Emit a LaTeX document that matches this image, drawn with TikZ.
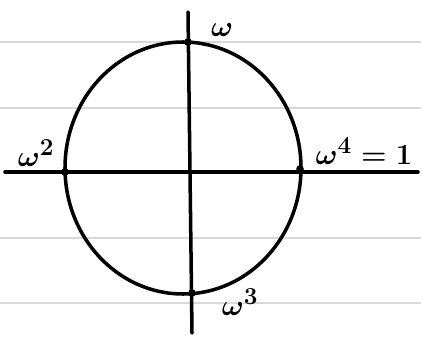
\documentclass[tikz,border=0pt]{standalone}
\usetikzlibrary{calc}
\begin{document}
\begin{tikzpicture}[
	x=0.3mm, y=-0.3mm,
	ink/.style = {line width=3pt, line cap=round, black},
	rule/.style = {black!15, line width=1.2pt},
	pt/.style = {circle, fill=black, inner sep=0pt, minimum size=6.5pt},
	lbl/.style = {font=\fontsize{28}{30}\selectfont\boldmath, black}
	]
	\useasboundingbox (0,0) rectangle (421,338);
	
	% === === Paper === ===
	\foreach \y in {42, 108, 238, 303}
		\draw[rule]	(0,\y)	--	(421,\y);
	
	
	% === === Nodes === ===
	\coordinate	(o)		at	(183, 168);
	\coordinate	(xl)	at	(5, 172);
	\coordinate	(xr)	at	(418, 172);
	\coordinate	(yt)	at	(188, 12);
	\coordinate	(yb)	at	(192, 333);
	
	\node[pt]	(w1)	at	(188, 42)	{};
	\node[pt]	(w2)	at	(65, 172)	{};
	\node[pt]	(w3)	at	(192, 293)	{};
	\node[pt]	(w4)	at	(300, 169)	{};
	
	\node[lbl]	(l1)	at	(222, 30)	{$\omega$};
	\node[lbl]	(l2)	at	(36, 153)	{$\omega^2$};
	\node[lbl]	(l3)	at	(240, 302)	{$\omega^3$};
	\node[lbl]	(l4)	at	(364, 151)	{$\omega^4=1$};
	
	
	% === === Lines === ===
	\draw[ink]	(xl)	to	(xr);
	\draw[ink]	(yt)	to	(yb);
	\draw[ink]	(o)	ellipse	[x radius=118, y radius=126];
	
	
\end{tikzpicture}
\end{document}
